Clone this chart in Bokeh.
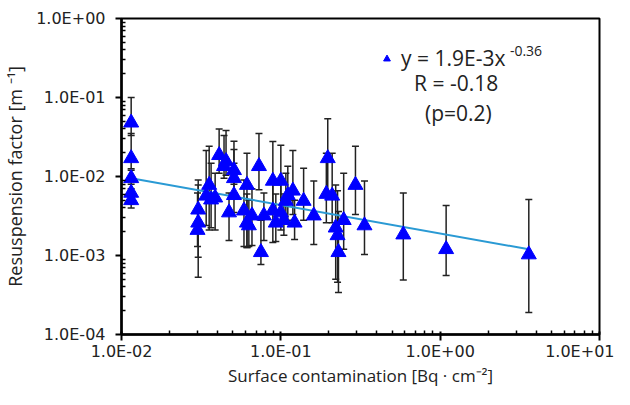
from bokeh.plotting import figure
from bokeh.models import (ColumnDataSource, Whisker, TeeHead, FixedTicker, Label,
                          Legend, LegendItem)
from bokeh.embed import file_html
from bokeh.resources import INLINE

# ---- data ----
surface = [0.0115, 0.0115, 0.0115, 0.0115, 0.0115,
           0.0303, 0.0303, 0.0300, 0.0355, 0.0340, 0.0365, 0.0387, 0.0410, 0.0453, 0.0440,
           0.0508, 0.0508, 0.0508, 0.0473, 0.0613, 0.0587, 0.0613, 0.0659, 0.0630, 0.0729,
           0.0783, 0.0750, 0.0891, 0.0891, 0.0930, 0.100, 0.100, 0.1045, 0.1106, 0.1075,
           0.122, 0.119, 0.139, 0.161, 0.197, 0.193, 0.210, 0.221, 0.227, 0.230, 0.248,
           0.294, 0.335, 0.587, 1.09, 3.6]
resusp = [0.048, 0.017, 0.0095, 0.0062, 0.005,
          0.0038, 0.0026, 0.0021, 0.0078, 0.0057, 0.0051, 0.0054, 0.0186, 0.0156, 0.0135,
          0.012, 0.0095, 0.0058, 0.0035, 0.0078, 0.0037, 0.0026, 0.0032, 0.0024, 0.0135,
          0.0032, 0.0011, 0.0088, 0.0037, 0.0026, 0.0088, 0.0035, 0.0028, 0.0058, 0.0049,
          0.0026, 0.0066, 0.0049, 0.0032, 0.017, 0.006, 0.0057, 0.00225, 0.0018, 0.0011,
          0.0028, 0.0078, 0.0024, 0.00184, 0.0012, 0.00103]
resusp_hi = [0.1, 0.035, 0.012, 0.008, 0.0065,
             0.009, 0.0078, 0.0062, 0.0241, 0.0214, 0.0147, 0.011, 0.040, 0.0382, 0.0331,
             0.028, 0.022, 0.0147, 0.0062, 0.0197, 0.009, 0.006, 0.007, 0.005, 0.035,
             0.0062, 0.0028, 0.0278, 0.009, 0.006, 0.0248, 0.008, 0.006, 0.0135, 0.011,
             0.005, 0.0214, 0.0127, 0.0088, 0.054, 0.0197, 0.0197, 0.0078, 0.0066, 0.0036,
             0.011, 0.0241, 0.0088, 0.0062, 0.0043, 0.0051]
resusp_lo = [0.033, 0.0125, 0.007, 0.0045, 0.004,
             0.00095, 0.00053, 0.0013, 0.0021, 0.0024, 0.00225, 0.0021, 0.011, 0.0104, 0.0095,
             0.008, 0.0062, 0.0035, 0.00155, 0.00126, 0.0013, 0.00126, 0.00134, 0.0013, 0.0068,
             0.00155, 0.00077, 0.0035, 0.00146, 0.0015, 0.0035, 0.0021, 0.0018, 0.0028, 0.0026,
             0.00159, 0.0033, 0.0028, 0.00138, 0.0058, 0.0026, 0.0026, 0.0005, 0.00046, 0.00034,
             0.0012, 0.0033, 0.00103, 0.00049, 0.00056, 0.00019]

fit_coef = 1.9e-3
fit_exp = -0.36

x_ticks = [0.01, 0.1, 1.0, 10.0]
x_tick_labels = ["1.0E-02", "1.0E-01", "1.0E+00", "1.0E+01"]
y_ticks = [0.0001, 0.001, 0.01, 0.1, 1.0]
y_tick_labels = ["1.0E-04", "1.0E-03", "1.0E-02", "1.0E-01", "1.0E+00"]

x_title = "Surface contamination [Bq · cm⁻²]"
y_title = "Resuspension factor [m ⁻¹]"

FONT = "Open Sans"

p = figure(width=614, height=389, x_axis_type="log", y_axis_type="log",
           x_range=(0.01, 10), y_range=(0.0001, 1),
           output_backend="svg", toolbar_location=None,
           min_border_left=119, min_border_right=15, min_border_top=18, min_border_bottom=50)

p.grid.visible = False
p.outline_line_color = "black"
p.outline_line_width = 2
p.background_fill_color = "white"
p.border_fill_color = "white"

def minors(lo_exp, hi_exp):
    return [m * 10.0 ** e for e in range(lo_exp, hi_exp) for m in range(2, 10)]

p.xaxis.ticker = FixedTicker(ticks=x_ticks, minor_ticks=minors(-2, 1))
p.yaxis.ticker = FixedTicker(ticks=y_ticks, minor_ticks=minors(-4, 0))
p.xaxis.major_label_overrides = dict(zip(x_ticks, x_tick_labels))
p.yaxis.major_label_overrides = dict(zip(y_ticks, y_tick_labels))

for ax in (p.xaxis, p.yaxis):
    ax.axis_line_width = 2.5
    ax.axis_line_color = "black"
    ax.major_tick_line_color = "black"
    ax.major_tick_line_width = 2
    ax.minor_tick_line_color = "black"
    ax.minor_tick_line_width = 1.5
    ax.major_label_text_font = "DejaVu Sans"
    ax.major_label_text_font_size = "16px"
    ax.major_label_text_color = "#222222"
    ax.axis_label_text_font = FONT
    ax.axis_label_text_font_style = "normal"
    ax.axis_label_text_color = "#222222"

p.xaxis.major_tick_out = 6
p.xaxis.major_tick_in = 3
p.xaxis.minor_tick_out = 0
p.xaxis.minor_tick_in = 4
p.xaxis.major_label_standoff = 1
p.xaxis.axis_label = x_title
p.xaxis.axis_label_text_font_size = "17px"
p.xaxis.axis_label_standoff = 0

p.yaxis.major_tick_out = 6
p.yaxis.major_tick_in = 0
p.yaxis.minor_tick_out = 0
p.yaxis.minor_tick_in = 4
p.yaxis.major_label_standoff = 10
p.yaxis.axis_label = y_title
p.yaxis.axis_label_text_font_size = "18px"
p.yaxis.axis_label_standoff = 6

src = ColumnDataSource(dict(x=surface, y=resusp, lo=resusp_lo, hi=resusp_hi))

wh = Whisker(base="x", upper="hi", lower="lo", source=src, dimension="height",
             line_color="#222222", line_width=1.5, level="underlay",
             upper_head=TeeHead(size=7, line_color="#222222", line_width=1.5),
             lower_head=TeeHead(size=7, line_color="#222222", line_width=1.5))
p.add_layout(wh)

x_fit = [min(surface), max(surface)]
y_fit = [fit_coef * v ** fit_exp for v in x_fit]
p.line(x_fit, y_fit, line_color="#2a9ad4", line_width=2)

pts = p.scatter("x", "y", source=src, marker="triangle", size=15,
                fill_color="#0000ff", line_color="#0000ff")

legend = Legend(items=[LegendItem(label="y = 1.9E-3x", renderers=[pts])],
                location=(257, 262), background_fill_alpha=0, border_line_alpha=0,
                glyph_width=17, glyph_height=17, label_standoff=6, padding=0, margin=0,
                label_text_font=FONT, label_text_font_size="21px", label_text_color="#222222")
p.add_layout(legend)

p.add_layout(Label(x=2.74, y=0.39, text="-0.36", text_font=FONT, text_font_size="14px",
                   text_color="#222222", text_baseline="middle", text_align="left"))
p.add_layout(Label(x=1.26, y=0.153, text="R = -0.18", text_font=FONT, text_font_size="21px",
                   text_color="#222222", text_baseline="middle", text_align="center"))
p.add_layout(Label(x=1.30, y=0.0643, text="(p=0.2)", text_font=FONT, text_font_size="21px",
                   text_color="#222222", text_baseline="middle", text_align="center"))

open("out.html", "w").write(file_html(p, INLINE))
